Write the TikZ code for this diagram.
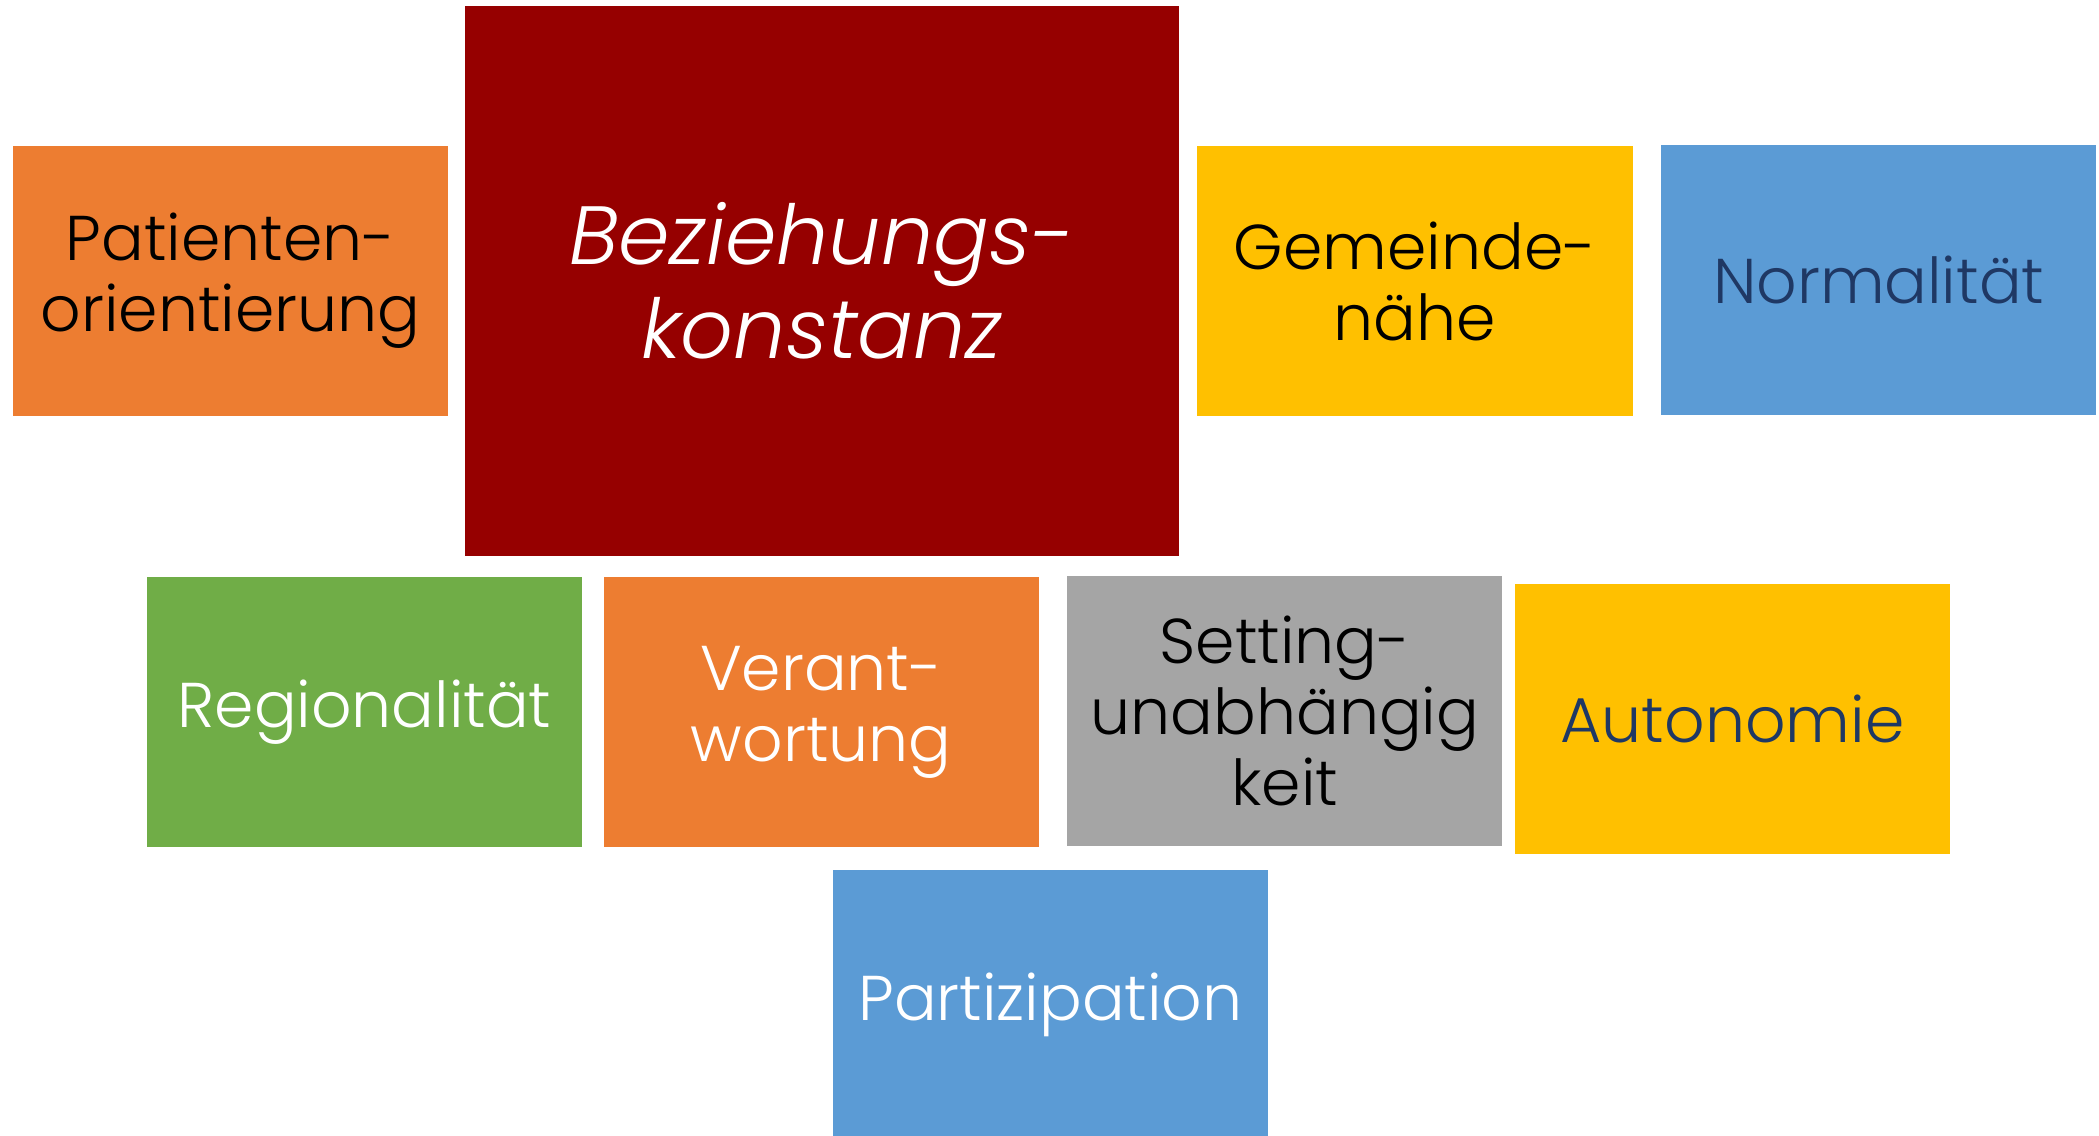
\documentclass[tikz,border=0pt]{standalone}
\usepackage{fontspec}
\setmainfont{Poppins Light}[ItalicFont={Poppins Light Italic}]
\usetikzlibrary{positioning}
\definecolor{boxorange}{HTML}{ED7D31}
\definecolor{boxred}{HTML}{960000}
\definecolor{boxgold}{HTML}{FFC000}
\definecolor{boxblue}{HTML}{5B9BD5}
\definecolor{boxgreen}{HTML}{70AD47}
\definecolor{boxgray}{HTML}{A5A5A5}
\definecolor{textnavy}{HTML}{1F3864}
\begin{document}
\begin{tikzpicture}[x=0.01cm, y=-0.01cm,
    box/.style={rectangle, inner sep=0pt, align=center,
        minimum width=4.35cm, minimum height=2.7cm,
        font=\fontsize{18}{20.2}\selectfont},
    bigbox/.style={box, minimum width=7.14cm, minimum height=5.49cm,
        font=\fontsize{23.5}{26.8}\selectfont\itshape}]
    \useasboundingbox (0,0) rectangle (2099,1136);

    % Top row
    \node[box, fill=boxorange, text=black] (pat) at (230.5,281) {Patienten-\\orientierung};
    \node[bigbox, fill=boxred, text=white, right=0.15cm of pat] (bez) {Beziehungs-\\konstanz};
    \node[box, fill=boxgold, text=black, right=0.17cm of bez] (gem) {Gemeinde-\\nähe};
    \node[box, fill=boxblue, text=textnavy, right=0.27cm of gem, yshift=0.01cm] (norm) {Normalität};

    % Bottom row
    \node[box, fill=boxgreen, text=white] (reg) at (364.5,712) {Regionalität};
    \node[box, fill=boxorange, text=white, right=0.20cm of reg] (ver) {Verant-\\wortung};
    \node[box, fill=boxgray, text=black, right=0.27cm of ver, yshift=0.01cm] (set) {Setting-\\unabhängig\\keit};
    \node[box, fill=boxgold, text=textnavy, right=0.11cm of set, yshift=-0.08cm] (aut) {Autonomie};

    % Last box
    \node[box, fill=boxblue, text=white] (part) at (1050.5,1005) {Partizipation};
\end{tikzpicture}
\end{document}
